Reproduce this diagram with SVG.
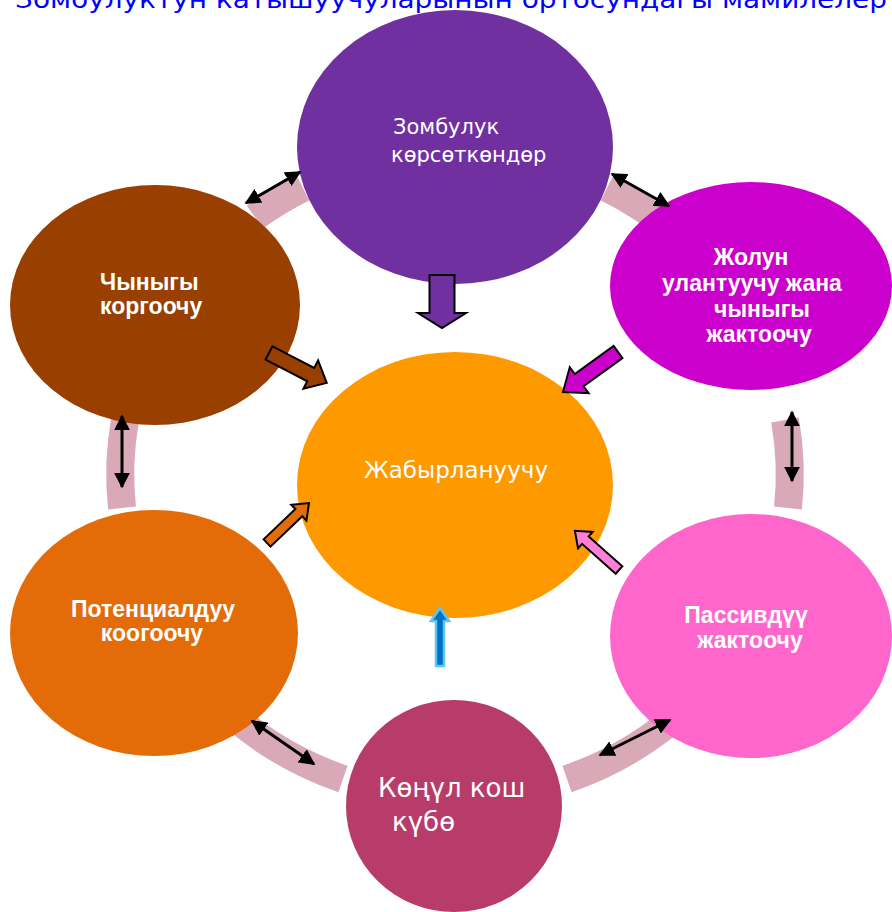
<svg xmlns="http://www.w3.org/2000/svg" width="892" height="912" viewBox="0 0 892 912">
<style>
.band{fill:none;stroke:#D9A9B7;stroke-width:28;stroke-linecap:butt}
.dbl{stroke:#000;stroke-width:3;fill:none;marker-start:url(#ah);marker-end:url(#ah)}
.blk{stroke:#000;stroke-width:2;stroke-linejoin:miter}
.tn{font-family:"DejaVu Sans",Verdana,sans-serif;fill:#fff}
.tb{font-family:"Liberation Sans",Arial,sans-serif;font-weight:bold;fill:#fff;font-size:23px}
</style>
<defs>
<marker id="ah" viewBox="0 0 10 10" refX="9" refY="5" markerWidth="16" markerHeight="16" markerUnits="userSpaceOnUse" orient="auto-start-reverse">
<path d="M0,0 L10,5 L0,10 z" fill="#000"/>
</marker>
</defs>
<rect width="892" height="912" fill="#fff"/>
<text x="15" y="8" font-family="DejaVu Sans,Verdana,sans-serif" font-size="24" fill="#0000FF" textLength="872" lengthAdjust="spacingAndGlyphs">Зомбулуктун катышуучуларынын ортосундагы мамилелер</text>
<g id="bands">
<path class="band" d="M255,217 A335,322 0 0 1 303,188"/>
<path class="band" d="M607,188 A335,322 0 0 1 655,217"/>
<path class="band" d="M785,420 A335,322 0 0 1 788,508"/>
<path class="band" d="M670,722 A335,322 0 0 1 567,779"/>
<path class="band" d="M343,779 A335,322 0 0 1 240,722"/>
<path class="band" d="M122,508 A335,322 0 0 1 125,420"/>
</g>
<g id="node-top">
<ellipse cx="455" cy="147" rx="158" ry="137" fill="#7030A0"/>
<text class="tn" font-size="21"><tspan x="393" y="134">Зомбулук</tspan><tspan x="391" y="162">көрсөткөндөр</tspan></text>
</g>
<g id="node-topright">
<ellipse cx="751" cy="286" rx="141" ry="104" fill="#CC00CC"/>
<text class="tb" text-anchor="middle"><tspan x="751" y="265">Жолун</tspan><tspan x="752" y="291">улантуучу жана</tspan><tspan x="762" y="317">чыныгы</tspan><tspan x="759" y="342">жактоочу</tspan></text>
</g>
<g id="node-left">
<ellipse cx="155" cy="305" rx="145" ry="120" fill="#993F00"/>
<text class="tb"><tspan x="100" y="290">Чыныгы</tspan><tspan x="100" y="314">коргоочу</tspan></text>
</g>
<g id="node-center">
<ellipse cx="455" cy="485" rx="158" ry="133" fill="#FF9900"/>
<text class="tn" font-size="23" x="456" y="478" text-anchor="middle">Жабырлануучу</text>
</g>
<g id="node-bottomleft">
<ellipse cx="154" cy="633" rx="144" ry="123" fill="#E36C09"/>
<text class="tb" text-anchor="middle"><tspan x="153" y="617">Потенциалдуу</tspan><tspan x="152" y="641">коогоочу</tspan></text>
</g>
<g id="node-bottomright">
<ellipse cx="751" cy="636" rx="141" ry="122" fill="#FF66CC"/>
<text class="tb" text-anchor="middle"><tspan x="746" y="623">Пассивдүү</tspan><tspan x="750" y="648">жактоочу</tspan></text>
</g>
<g id="node-bottom">
<ellipse cx="454" cy="806" rx="108" ry="106" fill="#B83C6A"/>
<text class="tn" font-size="26"><tspan x="378" y="797">Көңүл кош</tspan><tspan x="392" y="831">күбө</tspan></text>
</g>
<g id="connectors">
<line class="dbl" x1="246" y1="203" x2="300" y2="172"/>
<line class="dbl" x1="612" y1="174" x2="669" y2="206"/>
<line class="dbl" x1="792" y1="412" x2="792" y2="481"/>
<line class="dbl" x1="122" y1="416" x2="122" y2="487"/>
<line class="dbl" x1="252" y1="721" x2="314" y2="764"/>
<line class="dbl" x1="600" y1="755" x2="670" y2="720"/>
<path class="blk" fill="#7030A0" transform="translate(442,275) rotate(90)" d="M0,-12.5 L38,-12.5 L38,-24 L53,0 L38,24 L38,12.5 L0,12.5 z"/>
<path class="blk" fill="#993F00" transform="translate(269,353) rotate(27.35)" d="M0,-7.5 L47,-7.5 L47,-16 L65,0 L47,16 L47,7.5 L0,7.5 z"/>
<path class="blk" fill="#CC00CC" transform="translate(618,352) rotate(144)" d="M0,-7.5 L48,-7.5 L48,-16 L68,0 L48,16 L48,7.5 L0,7.5 z"/>
<path class="blk" fill="#E36C09" transform="translate(267,543) rotate(-43.6)" d="M0,-5 L44,-5 L44,-11 L58,0 L44,11 L44,5 L0,5 z"/>
<path class="blk" fill="#FF7FD4" transform="translate(619,570) rotate(-138.4)" d="M0,-5 L45,-5 L45,-11 L59,0 L45,11 L45,5 L0,5 z"/>
<path fill="#0070C0" stroke="#5BC4F5" stroke-width="2.5" transform="translate(440,666) rotate(-90)" d="M0,-4 L45,-4 L45,-9 L58,0 L45,9 L45,4 L0,4 z"/>
</g>
</svg>
